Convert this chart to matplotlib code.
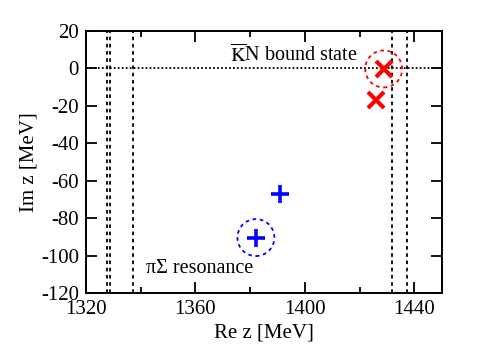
import matplotlib
matplotlib.use('Agg')
import matplotlib.pyplot as plt
from matplotlib.patches import Ellipse

plt.rcParams['font.family'] = ['Liberation Serif', 'DejaVu Serif']
plt.rcParams['mathtext.fontset'] = 'stix'
plt.rcParams['axes.unicode_minus'] = False

# thresholds (MeV)
pisigma_thresholds = [1327.6, 1328.9, 1337.0]
kbarn_thresholds = [1432.0, 1437.2]

# poles
red_re = [1428.8, 1426.0]
red_im = [-0.4, -16.9]
blue_re = [1390.9, 1382.1]
blue_im = [-66.8, -90.3]

# circled poles
circled = [(1428.8, -0.4, 'red'), (1382.1, -90.3, 'blue')]

fig = plt.figure(figsize=(5.04, 3.54), dpi=100)
ax = fig.add_axes([0.1706, 0.1715, 0.7058, 0.7418])

for x in pisigma_thresholds + kbarn_thresholds:
    ax.axvline(x, color='black', lw=1.3, linestyle=(0, (2, 2)), zorder=1)
ax.axhline(0, color='black', lw=1.3, linestyle=(0, (1, 1.2)), zorder=1)

ax.plot(red_re, red_im, linestyle='none', marker='x', color='red', markersize=11, mew=3, zorder=3)
ax.plot(blue_re, blue_im, linestyle='none', marker='+', color='blue', markersize=13, mew=2.6, zorder=3)

for cx, cy, col in circled:
    ax.add_patch(Ellipse((cx, cy), 13.5, 19.7, fill=False, edgecolor=col, lw=1.3,
                         linestyle=(0, (2, 2)), zorder=2))

ax.text(1372.7, 3.4, r'$\overline{\mathrm{K}}$N bound state', fontsize=14.5, ha='left', va='baseline')
ax.text(1342.0, -109, 'πΣ resonance', fontsize=14.5, ha='left', va='baseline')

ax.set_xlim(1320, 1450)
ax.set_ylim(-120, 20)
ax.set_xticks([1320, 1360, 1400, 1440])
ax.set_xticks([1340, 1380, 1420], minor=True)
ax.set_yticks(range(-120, 21, 20))
ax.tick_params(which='both', direction='in', top=True, right=True, labelsize=15, width=1.3)
ax.tick_params(which='major', length=8)
ax.tick_params(which='minor', length=4.5)
ax.tick_params(axis='x', pad=5)
ax.tick_params(axis='y', pad=5)
for s in ax.spines.values():
    s.set_linewidth(1.4)

ax.set_xlabel('Re z [MeV]', fontsize=15, labelpad=3)
ax.set_ylabel('Im z [MeV]', fontsize=15, labelpad=2)

fig.savefig('out.png', dpi=100)
